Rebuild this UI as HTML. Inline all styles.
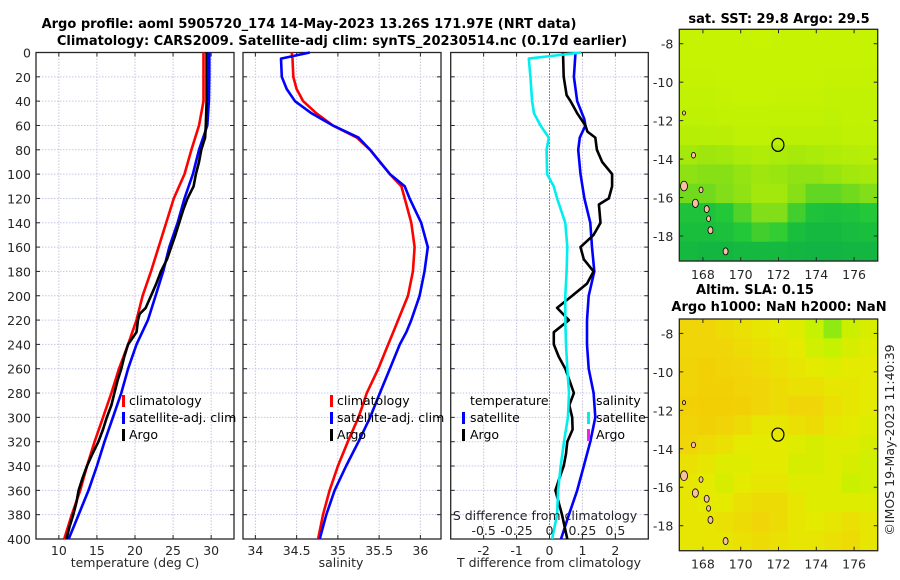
<!DOCTYPE html>
<html><head><meta charset="utf-8">
<style>
html,body{margin:0;padding:0;background:#fff;}
svg{display:block;font-family:"DejaVu Sans","Liberation Sans",sans-serif;}
.tk{font-size:12.5px;fill:#262626;}
.tt{font-size:13px;font-weight:bold;fill:#000;}
.lg{font-size:12.5px;fill:#000;}
</style></head>
<body>
<svg id="fig" width="900" height="580" viewBox="0 0 900 580" xmlns="http://www.w3.org/2000/svg">
<text class="tt" x="309" y="28" text-anchor="middle">Argo profile: aoml 5905720_174 14-May-2023 13.26S 171.97E (NRT data)</text>
<text class="tt" x="342" y="45" text-anchor="middle">Climatology: CARS2009. Satellite-adj clim: synTS_20230514.nc (0.17d earlier)</text>
<text class="tt" x="779" y="23" text-anchor="middle">sat. SST: 29.8 Argo: 29.5</text>
<text class="tt" x="755" y="294" text-anchor="middle">Altim. SLA: 0.15</text>
<text class="tt" x="779" y="311" text-anchor="middle">Argo h1000: NaN h2000: NaN</text>
<text class="tk" transform="translate(894,440) rotate(-90)" text-anchor="middle">©IMOS 19-May-2023 11:40:39</text>
<g id="plots"></g>
</svg>
<script>
// ---------- data ----------
const depths = [0,20,40,60,80,100,120,140,160,180,200,220,240,260,280,300,320,340,360,380,400];
const tempClim = [29.0,29.0,29.0,28.4,27.4,26.5,25.1,24.1,23.1,22.1,21.0,20.2,19.1,17.9,16.9,15.8,14.7,13.7,12.8,11.7,10.7];
const tempSat = [29.75,29.75,29.7,29.5,28.4,27.6,26.5,25.6,24.5,23.7,22.7,21.7,20.2,19.1,18.2,17.1,16.0,15.0,13.9,12.6,11.3];
const argoDepths = [0,20,40,60,70,80,90,100,110,120,130,140,150,160,170,180,190,200,210,215,220,230,240,250,260,270,280,290,300,310,320,330,340,350,360,370,380,390,400];
const tempArgo = [29.4,29.4,29.4,29.3,29.2,28.7,28.4,28.0,27.7,26.9,26.3,25.8,25.3,24.75,24.2,23.4,22.8,22.1,21.4,20.6,20.4,20.2,19.1,18.6,18.2,17.7,17.3,16.9,16.3,15.8,15.2,14.4,13.7,13.1,12.6,12.3,11.9,11.4,11.0];
const salDepths = [0,5,20,30,40,50,60,70,80,100,110,120,140,160,180,200,220,230,240,260,280,300,320,340,360,380,400];
const salClim = [34.44,34.45,34.46,34.50,34.58,34.74,34.94,35.23,35.39,35.63,35.77,35.81,35.89,35.93,35.91,35.85,35.73,35.67,35.61,35.49,35.35,35.25,35.12,35.00,34.90,34.82,34.76];
const salSat = [34.66,34.31,34.32,34.38,34.48,34.68,34.94,35.25,35.39,35.63,35.81,35.87,36.01,36.09,36.05,35.99,35.89,35.83,35.75,35.63,35.51,35.39,35.25,35.10,34.96,34.86,34.78];
const diffDepths = [0,20,40,55,60,70,80,100,120,140,160,180,200,220,240,260,280,300,320,340,360,380,400];
const tDiffSat = [0.79,0.74,0.84,1.06,1.09,0.92,0.87,0.94,1.06,1.24,1.29,1.36,1.19,1.14,1.14,1.19,1.34,1.39,1.24,1.04,0.84,0.59,0.35];
const sDiffDepths = [0,5,20,40,50,60,70,80,100,110,120,140,160,180,200,220,240,260,280,300,320,340,360,380,400];
const sDiffSat = [0.24,-0.157,-0.145,-0.132,-0.118,-0.068,-0.005,-0.022,-0.018,0.032,0.058,0.12,0.135,0.13,0.12,0.12,0.125,0.135,0.148,0.14,0.11,0.085,0.065,0.058,0.02];
const tDiffArgoDepths = [0,20,35,40,50,60,65,70,80,90,100,110,120,125,140,150,160,170,180,190,200,210,220,230,240,250,260,280,290,300,310,320,330,340,350,360,380,400];
const tDiffArgo = [0.41,0.43,0.52,0.64,0.84,1.09,1.15,1.39,1.44,1.6,1.9,1.9,1.8,1.5,1.55,1.34,0.94,1.04,1.34,1.14,0.69,0.23,0.59,0.13,0.13,0.28,0.48,0.74,0.6,0.69,0.7,0.54,0.5,0.43,0.3,0.18,0.38,0.54];
const yTicks = [0,20,40,60,80,100,120,140,160,180,200,220,240,260,280,300,320,340,360,380,400];
const tTicks = [10,15,20,25,30];
const sTicks = [34,34.5,35,35.5,36];
const sTickLabels = ["34","34.5","35","35.5","36"];
const dTicks = [-2,-1,0,1,2];
const sdTicks = [-0.5,-0.25,0,0.25,0.5];
const sdTickLabels = ["-0.5","-0.25","0","0.25","0.5"];
const latTicks = [-8,-10,-12,-14,-16,-18];
const lonTicks = [168,170,172,174,176];
const sstGrid = [
 [0.95,0.95,0.96,0.96,0.97,0.96,0.96,0.95,0.95,0.95,0.95],
 [0.95,0.95,0.95,0.96,0.96,0.96,0.95,0.95,0.95,0.95,0.95],
 [0.94,0.94,0.95,0.95,0.96,0.95,0.95,0.95,0.94,0.94,0.94],
 [0.93,0.93,0.94,0.95,0.95,0.94,0.94,0.94,0.93,0.93,0.93],
 [0.9,0.91,0.92,0.93,0.93,0.92,0.92,0.92,0.91,0.92,0.92],
 [0.85,0.86,0.87,0.9,0.9,0.88,0.88,0.88,0.88,0.9,0.9],
 [0.75,0.72,0.74,0.78,0.8,0.78,0.76,0.78,0.8,0.83,0.85],
 [0.65,0.62,0.62,0.68,0.72,0.7,0.66,0.66,0.7,0.74,0.76],
 [0.55,0.55,0.6,0.66,0.74,0.74,0.62,0.5,0.5,0.55,0.6],
 [0.25,0.25,0.3,0.45,0.6,0.6,0.4,0.25,0.22,0.25,0.3],
 [0.2,0.2,0.22,0.3,0.4,0.35,0.2,0.15,0.15,0.18,0.2],
 [0.15,0.12,0.12,0.15,0.15,0.15,0.12,0.1,0.1,0.12,0.12]
];
const slaGrid = [
 [0.3,0.3,0.35,0.4,0.45,0.5,0.55,0.75,0.9,0.7,0.6],
 [0.3,0.3,0.3,0.35,0.4,0.45,0.5,0.65,0.75,0.6,0.55],
 [0.25,0.2,0.25,0.3,0.35,0.4,0.45,0.5,0.55,0.5,0.5],
 [0.25,0.2,0.2,0.25,0.3,0.35,0.4,0.4,0.45,0.45,0.5],
 [0.2,0.15,0.15,0.2,0.3,0.35,0.3,0.3,0.4,0.45,0.5],
 [0.25,0.2,0.25,0.35,0.45,0.45,0.4,0.35,0.45,0.5,0.55],
 [0.3,0.35,0.4,0.5,0.5,0.5,0.55,0.6,0.55,0.55,0.6],
 [0.4,0.45,0.55,0.55,0.5,0.5,0.6,0.6,0.55,0.6,0.65],
 [0.45,0.5,0.6,0.5,0.45,0.45,0.55,0.55,0.55,0.7,0.65],
 [0.45,0.5,0.5,0.4,0.35,0.35,0.45,0.55,0.55,0.55,0.55],
 [0.45,0.45,0.4,0.35,0.3,0.35,0.45,0.5,0.45,0.4,0.45],
 [0.45,0.45,0.45,0.4,0.35,0.4,0.45,0.45,0.4,0.35,0.45]
];
const argoLon = 171.97, argoLat = -13.26;
const islandLons = [167.0,167.6,167.5,167.9,168.2,168.3,168.4,169.2,167.0];
const islandLats = [-15.4,-16.3,-13.8,-15.6,-16.6,-17.1,-17.7,-18.8,-11.6];
const islandSizes = [3.5,3,2,2,2.5,2,2.5,2.5,1.5];

// ---------- helpers ----------
const NS = "http://www.w3.org/2000/svg";
const root = document.getElementById('plots');
function mk(tag, attrs, parent){
  const e = document.createElementNS(NS, tag);
  for (const k in attrs) e.setAttribute(k, attrs[k]);
  (parent||root).appendChild(e);
  return e;
}
const Y0 = 52.5, Y1 = 539;
const yScale = d => Y0 + d/400*(Y1-Y0);
function lin(d0,d1,r0,r1){ return v => r0 + (v-d0)/(d1-d0)*(r1-r0); }
const xT = lin(7,33,36,234);
const xS = lin(33.85,36.25,243,441);
const xD = lin(-3,3,450.7,648.3);
const xSD = v => xD(v*4);

function axesFrame(x0,x1,xticks,xf,labels,showY,name){
  const g = mk('g',{});
  
  
  for (const t of xticks){
    const gl = mk('line',{x1:xf(t),x2:xf(t),y1:Y0,y2:Y1,stroke:'#c9c3dc','stroke-width':1,'stroke-dasharray':'1.5,1.5'},g);
    
    
  }
  for (const d of yTicks){
    const gl = mk('line',{x1:x0,x2:x1,y1:yScale(d),y2:yScale(d),stroke:'#c3c8ea','stroke-width':1,'stroke-dasharray':'1.5,1.5'},g);
    
    
    mk('line',{x1:x0,x2:x0+4,y1:yScale(d),y2:yScale(d),stroke:'#262626'},g);
    mk('line',{x1:x1-4,x2:x1,y1:yScale(d),y2:yScale(d),stroke:'#262626'},g);
    if (showY){
      const t = mk('text',{x:x0-5,y:yScale(d)+5,'text-anchor':'end',class:'tk'},g);
      t.textContent = d;
      
      
    }
  }
  xticks.forEach((t,i)=>{
    mk('line',{x1:xf(t),x2:xf(t),y1:Y1-4,y2:Y1,stroke:'#262626'},g);
    mk('line',{x1:xf(t),x2:xf(t),y1:Y0,y2:Y0+4,stroke:'#262626'},g);
    const tx = mk('text',{x:xf(t),y:Y1+16,'text-anchor':'middle',class:'tk'},g);
    tx.textContent = labels[i];
    
    
  });
  const r = mk('rect',{x:x0,y:Y0,width:x1-x0,height:Y1-Y0,fill:'none',stroke:'#262626','stroke-width':1.3},g);
  
  
}
function line(xs,ys,xf,color,w,name){
  const pts = xs.map((v,i)=>xf(v).toFixed(1)+','+yScale(ys[i]).toFixed(1)).join(' ');
  const p = mk('polyline',{points:pts,fill:'none',stroke:color,'stroke-width':w,'stroke-linejoin':'round'});
  
  
}
function txt(x,y,s,cls,name,anchor){
  const t = mk('text',{x:x,y:y,class:cls,'text-anchor':anchor||'start'});
  t.textContent = s;
  
  
}
function legBar(x,y,color,name){
  const r = mk('rect',{x:x,y:y-10,width:3,height:12,fill:color});
  
  
}

// ---------- panel 1: temperature ----------
axesFrame(36,234,tTicks,xT,tTicks.map(String),true,'temperature-axes');
line(tempClim,depths,xT,'#ff0000',2.6,'temperature-climatology-line');
line(tempSat,depths,xT,'#0000ff',2.6,'temperature-satellite-line');
line(tempArgo,argoDepths,xT,'#000000',2.6,'temperature-argo-line');
txt(135,567,'temperature (deg C)','tk','temperature-axis-title','middle');
legBar(122,405,'#ff0000','legend-climatology-swatch');
txt(129,405,'climatology','lg','legend-climatology-label');
legBar(122,422,'#0000ff','legend-satellite-swatch');
txt(129,422,'satellite-adj. clim','lg','legend-satellite-label');
legBar(122,439,'#000000','legend-argo-swatch');
txt(129,439,'Argo','lg','legend-argo-label');

// ---------- panel 2: salinity ----------
axesFrame(243,441,sTicks,xS,sTickLabels,false,'salinity-axes');
line(salClim,salDepths,xS,'#ff0000',2.6,'salinity-climatology-line');
line(salSat,salDepths,xS,'#0000ff',2.6,'salinity-satellite-line');
txt(341,567,'salinity','tk','salinity-axis-title','middle');
legBar(330,405,'#ff0000','legend2-climatology-swatch');
txt(337,405,'climatology','lg','legend2-climatology-label');
legBar(330,422,'#0000ff','legend2-satellite-swatch');
txt(337,422,'satellite-adj. clim','lg','legend2-satellite-label');
legBar(330,439,'#000000','legend2-argo-swatch');
txt(337,439,'Argo','lg','legend2-argo-label');

// ---------- panel 3: differences ----------
axesFrame(450.7,648.3,dTicks,xD,dTicks.map(String),false,'difference-axes');
const zl = mk('line',{x1:xD(0),x2:xD(0),y1:Y0,y2:Y1,stroke:'#333','stroke-width':1,'stroke-dasharray':'1,2'});


line(tDiffSat,diffDepths,xD,'#0000ff',2.6,'tdiff-satellite-line');
line(tDiffArgo,tDiffArgoDepths,xD,'#000000',2.6,'tdiff-argo-line');
line(sDiffSat,sDiffDepths,xSD,'#00eeee',2.6,'sdiff-satellite-line');
txt(549,567,'T difference from climatology','tk','tdiff-axis-title','middle');
txt(545,520,'S difference from climatology','tk','sdiff-axis-title','middle');
sdTicks.forEach((v,i)=>{ txt(xSD(v),535,sdTickLabels[i],'tk','sdiff-tick-label','middle'); });
txt(470,405,'temperature','lg','legend3-temperature-heading');
legBar(462,422,'#0000ff','legend3-tsat-swatch');
txt(470,422,'satellite','lg','legend3-tsat-label');
legBar(462,439,'#000000','legend3-targo-swatch');
txt(470,439,'Argo','lg','legend3-targo-label');
txt(596,405,'salinity','lg','legend3-salinity-heading');
legBar(587,422,'#00eeee','legend3-ssat-swatch');
txt(596,422,'satellite','lg','legend3-ssat-label');
legBar(587,439,'#ee22ee','legend3-sargo-swatch');
txt(596,439,'Argo','lg','legend3-sargo-label');

// ---------- maps ----------
function lerpC(stops, v){
  v = Math.max(0,Math.min(1,v));
  for (let i=1;i<stops.length;i++){
    if (v <= stops[i][0]){
      const a = stops[i-1], b = stops[i], t = (v-a[0])/(b[0]-a[0]);
      const c = [0,1,2].map(k=>Math.round(a[1][k]+(b[1][k]-a[1][k])*t));
      return 'rgb('+c.join(',')+')';
    }
  }
  return 'rgb('+stops[stops.length-1][1].join(',')+')';
}
const sstStops = [[0,[10,170,72]],[0.3,[34,200,56]],[0.6,[130,222,24]],[0.8,[176,236,8]],[1,[204,245,0]]];
const slaStops = [[0,[242,200,0]],[0.3,[240,214,8]],[0.5,[228,234,0]],[0.75,[196,242,0]],[1,[110,228,30]]];

function drawMap(grid, stops, top, bottom, latTop, name){
  const x0 = 679.3, x1 = 877.7, lonL = 166.75, lonR = 177.25;
  const fx = lin(lonL,lonR,x0,x1);
  const pxPerDeg = (bottom-top)/ (latTop - (-19.3));
  const fy = lat => top + (latTop - lat)*pxPerDeg;
  const g = mk('g',{});
  
  
  const rows = grid.length, cols = grid[0].length;
  const cw = (x1-x0)/cols, ch = (bottom-top)/rows;
  grid.forEach((row,r)=>row.forEach((v,c)=>{
    const cell = mk('rect',{x:x0+c*cw,y:top+r*ch,width:cw+0.6,height:ch+0.6,fill:lerpC(stops,v)},g);
    
    
  }));
  islandLons.forEach((lo,i)=>{
    const s = islandSizes[i];
    const isl = mk('ellipse',{cx:fx(lo),cy:fy(islandLats[i]),rx:s,ry:s*1.4,fill:'#f8c0a0',stroke:'#000','stroke-width':0.8},g);
    
    
  });
  const c = mk('ellipse',{cx:fx(argoLon),cy:fy(argoLat),rx:6,ry:6.5,fill:'none',stroke:'#000','stroke-width':1.2},g);
  
  
  latTicks.forEach(l=>{
    mk('line',{x1:x0,x2:x0+4,y1:fy(l),y2:fy(l),stroke:'#262626'},g);
    mk('line',{x1:x1-4,x2:x1,y1:fy(l),y2:fy(l),stroke:'#262626'},g);
    const t = mk('text',{x:x0-6,y:fy(l)+5,'text-anchor':'end',class:'tk'},g);
    t.textContent = l;
    
    
  });
  lonTicks.forEach(l=>{
    mk('line',{x1:fx(l),x2:fx(l),y1:bottom-4,y2:bottom,stroke:'#262626'},g);
    mk('line',{x1:fx(l),x2:fx(l),y1:top,y2:top+4,stroke:'#262626'},g);
    const t = mk('text',{x:fx(l),y:bottom+18,'text-anchor':'middle',class:'tk'},g);
    t.textContent = l;
    
    
  });
  const b = mk('rect',{x:x0,y:top,width:x1-x0,height:bottom-top,fill:'none',stroke:'#262626','stroke-width':1.3},g);
  
  
}
drawMap(sstGrid, sstStops, 29.3, 261, -7.25, 'sst-map');
drawMap(slaGrid, slaStops, 319, 550.7, -7.25, 'sla-map');
</script>
</body></html>
